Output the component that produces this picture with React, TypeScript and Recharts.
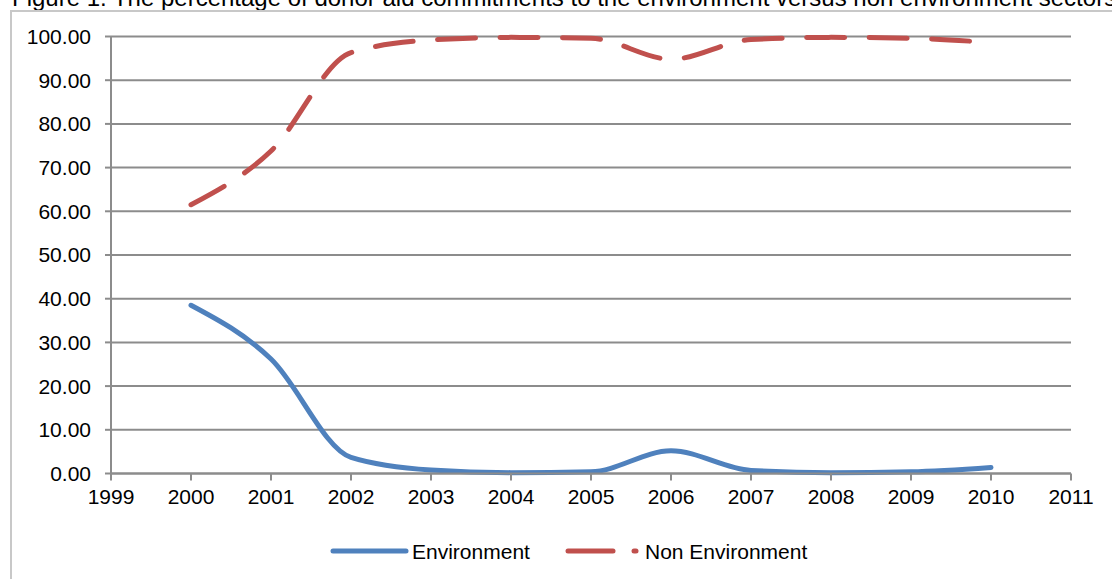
import { LineChart, Line, XAxis, YAxis, CartesianGrid } from 'recharts';

// Figure 1 data
const years = [2000, 2001, 2002, 2003, 2004, 2005, 2006, 2007, 2008, 2009, 2010];
const environment = [38.5, 26.2, 3.7, 0.8, 0.2, 0.4, 5.2, 0.7, 0.2, 0.4, 1.4];
const nonEnvironment = [61.5, 73.8, 96.3, 99.2, 99.8, 99.6, 94.8, 99.3, 99.8, 99.6, 98.6];
const xTicks = [1999, 2000, 2001, 2002, 2003, 2004, 2005, 2006, 2007, 2008, 2009, 2010, 2011];
const yTicks = [0, 10, 20, 30, 40, 50, 60, 70, 80, 90, 100];

const title =
  'Figure 1. The percentage of donor aid commitments to the environment versus non environment sectors';

const FONT = '"Liberation Sans", Arial, sans-serif';
const BLUE = '#4f81bd';
const RED = '#c0504d';
const GRID = '#8c8c8c';

const chartData = years.map((year, i) => ({
  year,
  environment: environment[i],
  nonEnvironment: nonEnvironment[i],
}));

export default function App() {
  return (
    <div
      style={{
        position: 'absolute',
        left: 0,
        top: 0,
        width: 1112,
        height: 579,
        overflow: 'hidden',
        background: '#fff',
        fontFamily: FONT,
      }}
    >
      {/* caption sits above the frame and is cut by the page edge, as in the original */}
      <div
        style={{
          position: 'absolute',
          left: 12,
          top: -14,
          fontSize: 24,
          lineHeight: '24px',
          whiteSpace: 'nowrap',
          color: '#000',
        }}
      >
        {title}
      </div>
      <div
        style={{
          position: 'absolute',
          left: 10,
          top: 10,
          width: 1200,
          height: 700,
          borderLeft: '2px solid #c8c8c8',
          borderTop: '2px solid #c8c8c8',
        }}
      />
      <div style={{ position: 'absolute', left: 0, top: 0 }}>
        <LineChart
          width={1112}
          height={579}
          data={chartData}
          margin={{ top: 36.5, right: 41, left: 0, bottom: 75.5 }}
        >
          <CartesianGrid vertical={false} stroke={GRID} strokeWidth={2} />
          <XAxis
            dataKey="year"
            type="number"
            domain={[1999, 2011]}
            ticks={xTicks}
            interval={0}
            height={30}
            tickSize={7}
            tickMargin={9}
            stroke={GRID}
            strokeWidth={2}
            tick={{ fill: '#000', fontSize: 21, fontFamily: FONT }}
          />
          <YAxis
            type="number"
            domain={[0, 100]}
            ticks={yTicks}
            interval={0}
            width={111}
            tickSize={6}
            tickMargin={14}
            stroke={GRID}
            strokeWidth={2}
            tickFormatter={(v: number) => v.toFixed(2)}
            tick={{ fill: '#000', fontSize: 21, fontFamily: FONT }}
          />
          <Line
            type="monotone"
            dataKey="environment"
            stroke={BLUE}
            strokeWidth={5}
            strokeLinecap="round"
            dot={false}
            isAnimationActive={false}
          />
          <Line
            type="monotone"
            dataKey="nonEnvironment"
            stroke={RED}
            strokeWidth={5}
            strokeLinecap="round"
            strokeDasharray="38 24.5"
            dot={false}
            isAnimationActive={false}
          />
        </LineChart>
      </div>
      {/* legend, drawn like the Excel one */}
      <svg
        width={1112}
        height={40}
        style={{ position: 'absolute', left: 0, top: 531 }}
      >
        <line x1={333} y1={20} x2={406} y2={20} stroke={BLUE} strokeWidth={5} strokeLinecap="round" />
        <text x={412} y={20} dy="0.36em" fontSize={21} fontFamily={FONT} fill="#000">
          Environment
        </text>
        <line x1={568} y1={20} x2={613} y2={20} stroke={RED} strokeWidth={5} strokeLinecap="round" />
        <line x1={634} y1={20} x2={636} y2={20} stroke={RED} strokeWidth={5} strokeLinecap="round" />
        <text x={645} y={20} dy="0.36em" fontSize={21} fontFamily={FONT} fill="#000">
          Non Environment
        </text>
      </svg>
    </div>
  );
}
